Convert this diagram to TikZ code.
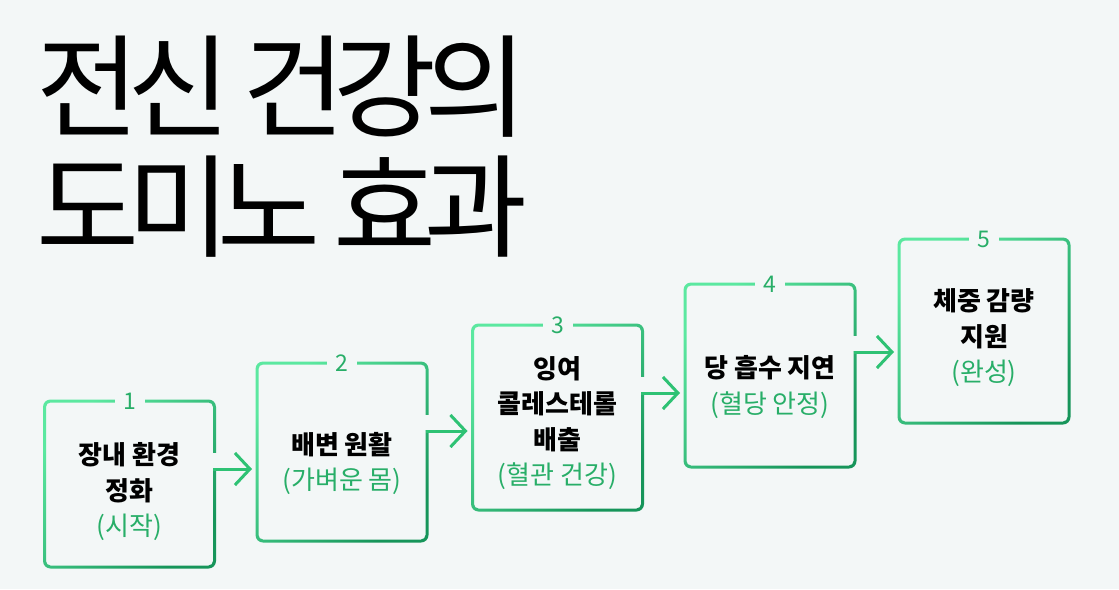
\documentclass[tikz,border=0pt]{standalone}
\usepackage{fontspec}
\setmainfont{Noto Sans CJK KR}
\newfontfamily\titlefont{Noto Sans CJK KR}[LetterSpace=-11]
\usetikzlibrary{arrows.meta,calc}
\definecolor{bg}{HTML}{F3F7F7}
\definecolor{gl}{HTML}{5BE8A0}
\definecolor{gd}{HTML}{16955A}
\definecolor{garr}{HTML}{2EC274}
\definecolor{gtxt}{HTML}{28AE68}
\newcommand\ringbox[1]{%
  \shade[even odd rule, top color=gl, bottom color=gd, shading angle=45]
    [rounded corners=7.5pt] ($(#1.north west)+(-1.5,-1.5)$) rectangle ($(#1.south east)+(1.5,1.5)$)
    [rounded corners=4.5pt] ($(#1.north west)+(1.5,1.5)$) rectangle ($(#1.south east)+(-1.5,-1.5)$);}
\newcommand\sidegap[1]{%
  \fill[bg] ($(#1.north east)+(-3,52)$) rectangle ($(#1.north east)+(3,66.5)$);}
\begin{document}
\begin{tikzpicture}[x=1pt,y=-1pt,
  box/.style={minimum width=170pt, inner sep=0pt, outer sep=0pt},
  num/.style={fill=bg, text=gtxt, font=\fontsize{23}{23}\selectfont, inner sep=0pt, minimum width=30pt},
  lbl/.style={align=center, font=\fontsize{26}{35.5}\selectfont\bfseries, inner sep=0pt},
  arr/.style={draw=garr, line width=3pt, shorten >=5pt, -{Straight Barb[length=15pt,width=32pt]}},
  ttl/.style={anchor=base west, inner sep=0pt, font=\fontsize{112}{120}\titlefont}
]
\fill[bg] (0,0) rectangle (1119,589);
\useasboundingbox (0,0) rectangle (1119,589);

\node[ttl] (title1) at (36,128) {전신 건강의};
\node[ttl] (title2) at (36,248) {도미노 효과};

\node[box, minimum height=166pt] (b1) at (129.5,484) {};
\node[box, minimum height=178pt] (b2) at (342,452) {};
\node[box, minimum height=185pt] (b3) at (557.5,417.5) {};
\node[box, minimum height=183pt] (b4) at (770,375.5) {};
\node[box, minimum height=184pt] (b5) at (984,331) {};

\foreach \b in {b1,b2,b3,b4,b5}{\ringbox{\b}}
\foreach \b in {b1,b2,b3,b4}{\sidegap{\b}}

\node[num] (n1) at (b1.north) {1};
\node[num] (n2) at (b2.north) {2};
\node[num] (n3) at (b3.north) {3};
\node[num] (n4) at (b4.north) {4};
\node[num] (n5) at (b5.north) {5};

\node[lbl] (t1) at (129.5,492) {장내 환경\\정화\\{\color{gtxt}\mdseries (시작)}};
\node[lbl] (t2) at (342,463.5) {배변 원활\\{\color{gtxt}\mdseries (가벼운 몸)}};
\node[lbl] (t3) at (557.5,423) {잉여\\콜레스테롤\\배출\\{\color{gtxt}\mdseries (혈관 건강)}};
\node[lbl] (t4) at (770,387) {당 흡수 지연\\{\color{gtxt}\mdseries (혈당 안정)}};
\node[lbl] (t5) at (984,338) {체중 감량\\지원\\{\color{gtxt}\mdseries (완성)}};

\coordinate (a1) at ($(b1.north east)+(-1.5,68)$);
\coordinate (a2) at ($(b2.north east)+(-1.5,68)$);
\coordinate (a3) at ($(b3.north east)+(-1.5,68)$);
\coordinate (a4) at ($(b4.north east)+(-1.5,68)$);
\draw[arr] (a1) -- (a1 -| b2.west);
\draw[arr] (a2) -- (a2 -| b3.west);
\draw[arr] (a3) -- (a3 -| b4.west);
\draw[arr] (a4) -- (a4 -| b5.west);
\end{tikzpicture}
\end{document}
